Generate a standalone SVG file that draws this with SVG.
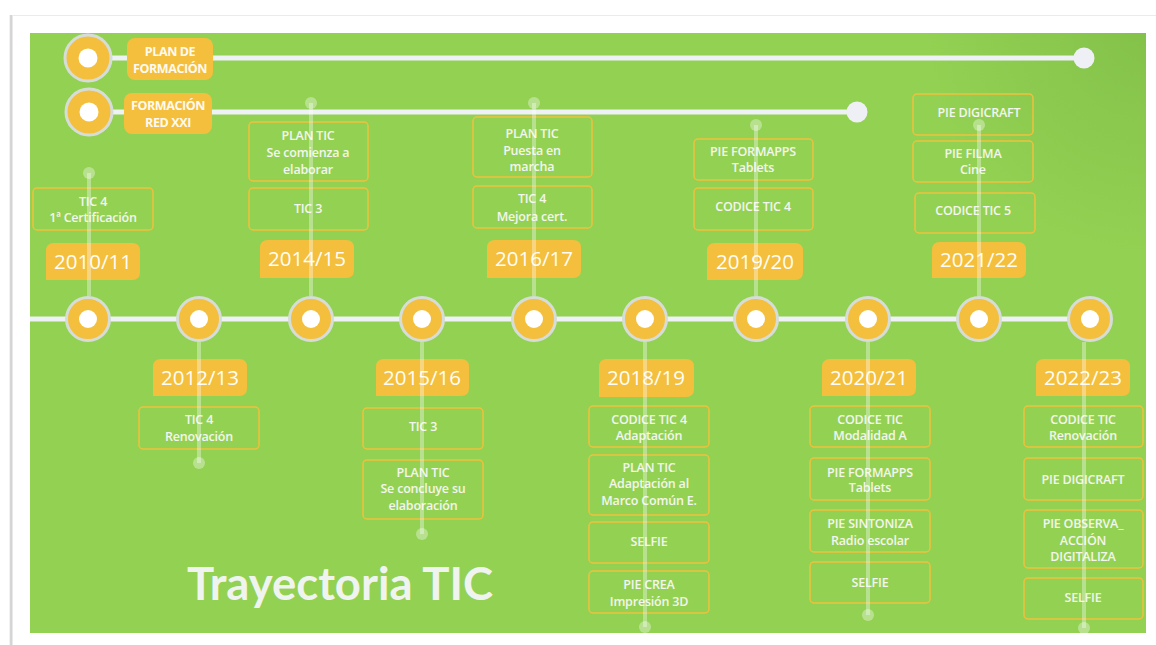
<svg xmlns="http://www.w3.org/2000/svg" width="1156" height="645" viewBox="0 0 1156 645">
<defs>
<radialGradient id="corner" cx="1146" cy="33" r="220" gradientUnits="userSpaceOnUse">
<stop offset="0" stop-color="#5f9e35" stop-opacity="0.3"/>
<stop offset="1" stop-color="#5f9e35" stop-opacity="0"/>
</radialGradient>
<linearGradient id="shadow" x1="0" y1="0" x2="1" y2="0">
<stop offset="0" stop-color="#ffffff"/>
<stop offset="0.5" stop-color="#c9c9c9"/>
<stop offset="1" stop-color="#f4f4f4"/>
</linearGradient>
</defs>
<style>
.bg{fill:#93d153}
.box{fill:none;stroke:#efc13c;stroke-width:1.5}
.bt{font-family:"Open Sans","Noto Sans",sans-serif;font-weight:600;font-size:12.5px;fill:#f3f6ee;text-anchor:middle;letter-spacing:-0.2px}
.tag{fill:#f4bf3c}
.yt{font-family:"Open Sans","Noto Sans",sans-serif;font-size:20.5px;fill:#fffdf6;text-anchor:middle}
.lab{fill:#f4bf3c}
.lt{font-family:"Open Sans","Noto Sans",sans-serif;font-weight:700;font-size:12.5px;fill:#fffaf0;text-anchor:middle;letter-spacing:-0.4px}
.ring{fill:#f4bf3c;stroke:#d6ddd8;stroke-width:3}
.dot{fill:#ffffff}
.track{stroke:#eef1f6;stroke-width:5;fill:none}
.endd{fill:#eef0f6}
.conn{stroke:#ffffff;stroke-opacity:0.35;stroke-width:4;fill:none}
.cend{fill:#ffffff;fill-opacity:0.35}
</style>
<rect x="0" y="0" width="1156" height="645" fill="#ffffff"/>
<rect x="9" y="15" width="4" height="630" fill="url(#shadow)"/>
<line x1="12" y1="15.5" x2="1156" y2="15.5" stroke="#ebebeb" stroke-width="1"/>
<rect class="bg" x="30" y="33" width="1116" height="600"/>
<rect x="30" y="33" width="1116" height="600" fill="url(#corner)"/>

<text x="187" y="600" font-family="Lato,'Open Sans',sans-serif" font-weight="700" font-size="46" fill="#f0f4f1" textLength="306" lengthAdjust="spacingAndGlyphs">Trayectoria TIC</text>

<g id="tracks">
<line class="track" x1="30" y1="319" x2="1090" y2="319"/>
<line class="track" x1="110" y1="58" x2="1084" y2="58"/>
<circle class="endd" cx="1084" cy="58" r="10.5"/>
<line class="track" x1="110" y1="112" x2="857" y2="112"/>
<circle class="endd" cx="857" cy="112" r="10.5"/>
</g>

<g id="legend-plan">
<circle class="ring" cx="88" cy="58" r="23"/>
<circle class="dot" cx="88" cy="58" r="9.5"/>
<rect class="lab" x="127" y="38" width="86" height="42" rx="8"/>
<text class="lt" x="170" y="56">PLAN DE</text>
<text class="lt" x="170" y="73">FORMACIÓN</text>
</g>
<g id="legend-red">
<circle class="ring" cx="89" cy="112" r="23"/>
<circle class="dot" cx="89" cy="112" r="9.5"/>
<rect class="lab" x="124" y="93" width="88" height="41" rx="8"/>
<text class="lt" x="168" y="110">FORMACIÓN</text>
<text class="lt" x="168" y="127">RED XXI</text>
</g>

<g id="y2010">
<circle class="ring" cx="88" cy="319" r="21.5"/>
<circle class="dot" cx="88" cy="319" r="9"/>
<path class="tag" d="M46,280 V251 Q46,243 54,243 H132 Q140,243 140,251 V272 Q140,280 132,280 Z"/>
<text class="yt" x="93" y="269">2010/11</text>
<rect class="box" x="33" y="188" width="120" height="42" rx="4"/>
<text class="bt" x="93" y="206">TIC 4</text>
<text class="bt" x="93" y="222">1ª Certificación</text>
</g>

<g id="y2012">
<circle class="ring" cx="199" cy="319" r="21.5"/>
<circle class="dot" cx="199" cy="319" r="9"/>
<path class="tag" d="M153,396 V367 Q153,359 161,359 H239 Q247,359 247,367 V388 Q247,396 239,396 Z"/>
<text class="yt" x="200" y="385">2012/13</text>
<rect class="box" x="139" y="407" width="120" height="42" rx="4"/>
<text class="bt" x="199" y="424">TIC 4</text>
<text class="bt" x="199" y="441">Renovación</text>
</g>

<g id="y2014">
<circle class="ring" cx="311" cy="319" r="21.5"/>
<circle class="dot" cx="311" cy="319" r="9"/>
<path class="tag" d="M260,278 V248 Q260,240 268,240 H346 Q354,240 354,248 V270 Q354,278 346,278 Z"/>
<text class="yt" x="307" y="266">2014/15</text>
<rect class="box" x="249" y="122" width="119" height="59" rx="4"/>
<text class="bt" x="308" y="140">PLAN TIC</text>
<text class="bt" x="308" y="157">Se comienza a</text>
<text class="bt" x="308" y="174">elaborar</text>
<rect class="box" x="249" y="188" width="119" height="42" rx="4"/>
<text class="bt" x="308" y="213">TIC 3</text>
</g>

<g id="y2015">
<circle class="ring" cx="422" cy="319" r="21.5"/>
<circle class="dot" cx="422" cy="319" r="9"/>
<path class="tag" d="M376,396 V367 Q376,359 384,359 H461 Q469,359 469,367 V388 Q469,396 461,396 Z"/>
<text class="yt" x="422" y="385">2015/16</text>
<rect class="box" x="363" y="408" width="120" height="41" rx="4"/>
<text class="bt" x="423" y="431">TIC 3</text>
<rect class="box" x="363" y="460" width="120" height="59" rx="4"/>
<text class="bt" x="423" y="477">PLAN TIC</text>
<text class="bt" x="423" y="493">Se concluye su</text>
<text class="bt" x="423" y="510">elaboración</text>
</g>

<g id="y2016">
<circle class="ring" cx="534" cy="319" r="21.5"/>
<circle class="dot" cx="534" cy="319" r="9"/>
<path class="tag" d="M487,278 V248 Q487,240 495,240 H573 Q581,240 581,248 V270 Q581,278 573,278 Z"/>
<text class="yt" x="534" y="266">2016/17</text>
<rect class="box" x="473" y="117" width="119" height="60" rx="4"/>
<text class="bt" x="532" y="138">PLAN TIC</text>
<text class="bt" x="532" y="155">Puesta en</text>
<text class="bt" x="532" y="171">marcha</text>
<rect class="box" x="473" y="186" width="119" height="42" rx="4"/>
<text class="bt" x="532" y="203">TIC 4</text>
<text class="bt" x="532" y="221">Mejora cert.</text>
</g>

<g id="y2018">
<circle class="ring" cx="645" cy="319" r="21.5"/>
<circle class="dot" cx="645" cy="319" r="9"/>
<path class="tag" d="M599,397 V367 Q599,359 607,359 H686 Q694,359 694,367 V389 Q694,397 686,397 Z"/>
<text class="yt" x="646" y="385">2018/19</text>
<rect class="box" x="589" y="406" width="120" height="41" rx="4"/>
<text class="bt" x="649" y="424">CODICE TIC 4</text>
<text class="bt" x="649" y="440">Adaptación</text>
<rect class="box" x="589" y="455" width="120" height="60" rx="4"/>
<text class="bt" x="649" y="472">PLAN TIC</text>
<text class="bt" x="649" y="488">Adaptación al</text>
<text class="bt" x="649" y="505">Marco Común E.</text>
<rect class="box" x="589" y="522" width="120" height="41" rx="4"/>
<text class="bt" x="649" y="546">SELFIE</text>
<rect class="box" x="589" y="571" width="120" height="42" rx="4"/>
<text class="bt" x="649" y="589">PIE CREA</text>
<text class="bt" x="649" y="606">Impresión 3D</text>
</g>

<g id="y2019">
<circle class="ring" cx="756" cy="319" r="21.5"/>
<circle class="dot" cx="756" cy="319" r="9"/>
<path class="tag" d="M707,280 V251 Q707,243 715,243 H795 Q803,243 803,251 V272 Q803,280 795,280 Z"/>
<text class="yt" x="755" y="269">2019/20</text>
<rect class="box" x="694" y="139" width="119" height="41" rx="4"/>
<text class="bt" x="753" y="156">PIE FORMAPPS</text>
<text class="bt" x="753" y="172">Tablets</text>
<rect class="box" x="694" y="188" width="119" height="42" rx="4"/>
<text class="bt" x="753" y="211">CODICE TIC 4</text>
</g>

<g id="y2020">
<circle class="ring" cx="868" cy="319" r="21.5"/>
<circle class="dot" cx="868" cy="319" r="9"/>
<path class="tag" d="M822,396 V367 Q822,359 830,359 H908 Q916,359 916,367 V388 Q916,396 908,396 Z"/>
<text class="yt" x="869" y="385">2020/21</text>
<rect class="box" x="810" y="406" width="120" height="41" rx="4"/>
<text class="bt" x="870" y="424">CODICE TIC</text>
<text class="bt" x="870" y="440">Modalidad A</text>
<rect class="box" x="810" y="458" width="120" height="42" rx="4"/>
<text class="bt" x="870" y="477">PIE FORMAPPS</text>
<text class="bt" x="870" y="492">Tablets</text>
<rect class="box" x="810" y="510" width="120" height="42" rx="4"/>
<text class="bt" x="870" y="528">PIE SINTONIZA</text>
<text class="bt" x="870" y="545">Radio escolar</text>
<rect class="box" x="810" y="562" width="120" height="41" rx="4"/>
<text class="bt" x="870" y="587">SELFIE</text>
</g>

<g id="y2021">
<circle class="ring" cx="979" cy="319" r="21.5"/>
<circle class="dot" cx="979" cy="319" r="9"/>
<path class="tag" d="M932,278 V250 Q932,242 940,242 H1018 Q1026,242 1026,250 V270 Q1026,278 1018,278 Z"/>
<text class="yt" x="979" y="267">2021/22</text>
<rect class="box" x="913" y="94" width="120" height="41" rx="4"/>
<text class="bt" x="979" y="117">PIE DIGICRAFT</text>
<rect class="box" x="913" y="141" width="120" height="41" rx="4"/>
<text class="bt" x="973" y="158">PIE FILMA</text>
<text class="bt" x="973" y="174">Cine</text>
<rect class="box" x="915" y="193" width="120" height="40" rx="4"/>
<text class="bt" x="973" y="215">CODICE TIC 5</text>
</g>

<g id="y2022">
<circle class="ring" cx="1090" cy="319" r="21.5"/>
<circle class="dot" cx="1090" cy="319" r="9"/>
<path class="tag" d="M1036,396 V367 Q1036,359 1044,359 H1122 Q1130,359 1130,367 V388 Q1130,396 1122,396 Z"/>
<text class="yt" x="1083" y="385">2022/23</text>
<rect class="box" x="1024" y="406" width="119" height="41" rx="4"/>
<text class="bt" x="1083" y="424">CODICE TIC</text>
<text class="bt" x="1083" y="440">Renovación</text>
<rect class="box" x="1024" y="458" width="119" height="42" rx="4"/>
<text class="bt" x="1083" y="484">PIE DIGICRAFT</text>
<rect class="box" x="1024" y="510" width="119" height="58" rx="4"/>
<text class="bt" x="1083" y="528">PIE OBSERVA_</text>
<text class="bt" x="1083" y="545">ACCIÓN</text>
<text class="bt" x="1083" y="561">DIGITALIZA</text>
<rect class="box" x="1024" y="578" width="119" height="41" rx="4"/>
<text class="bt" x="1083" y="602">SELFIE</text>
</g>

<g id="connectors">
<line class="conn" x1="89" y1="173" x2="89" y2="296"/><circle class="cend" cx="89" cy="173" r="6"/>
<line class="conn" x1="199" y1="342" x2="199" y2="463"/><circle class="cend" cx="199" cy="463" r="6"/>
<line class="conn" x1="311" y1="103" x2="311" y2="296"/><circle class="cend" cx="311" cy="103" r="6"/>
<line class="conn" x1="422" y1="342" x2="422" y2="534"/><circle class="cend" cx="422" cy="534" r="6"/>
<line class="conn" x1="534" y1="103" x2="534" y2="296"/><circle class="cend" cx="534" cy="103" r="6"/>
<line class="conn" x1="645" y1="342" x2="645" y2="627"/><circle class="cend" cx="645" cy="627" r="6"/>
<line class="conn" x1="756" y1="125" x2="756" y2="296"/><circle class="cend" cx="756" cy="125" r="6"/>
<line class="conn" x1="868" y1="342" x2="868" y2="615"/><circle class="cend" cx="868" cy="615" r="6"/>
<line class="conn" x1="979" y1="125" x2="979" y2="296"/><circle class="cend" cx="979" cy="125" r="6"/>
<line class="conn" x1="1084" y1="342" x2="1084" y2="628"/><circle class="cend" cx="1084" cy="628" r="6"/>
</g>
</svg>
